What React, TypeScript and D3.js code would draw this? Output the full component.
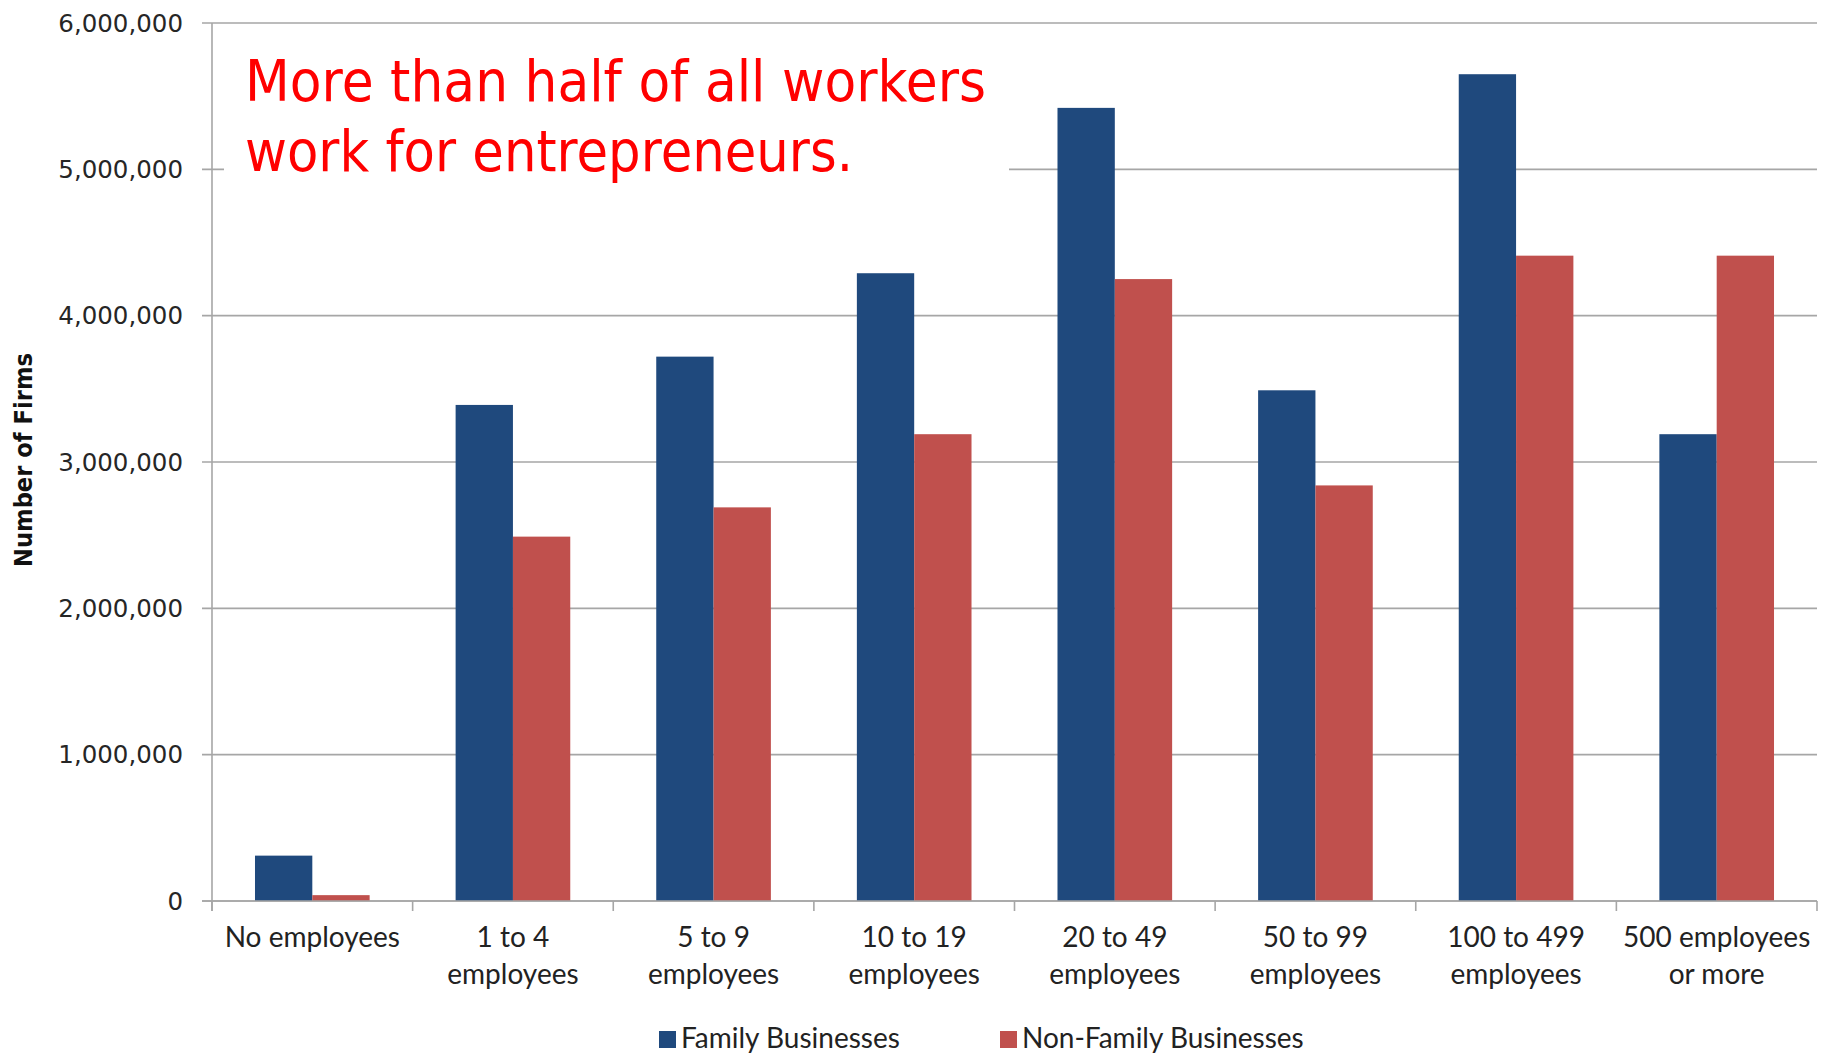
import * as d3 from "d3";

// chart values
const CATEGORIES = [
  "No employees",
  "1 to 4 employees",
  "5 to 9 employees",
  "10 to 19 employees",
  "20 to 49 employees",
  "50 to 99 employees",
  "100 to 499 employees",
  "500 employees or more",
];
const CATEGORY_LINES = [
  ["No employees"],
  ["1 to 4", "employees"],
  ["5 to 9", "employees"],
  ["10 to 19", "employees"],
  ["20 to 49", "employees"],
  ["50 to 99", "employees"],
  ["100 to 499", "employees"],
  ["500 employees", "or more"],
];
const SERIES = ["Family Businesses", "Non-Family Businesses"];
const FAMILY = [310000, 3390000, 3720000, 4290000, 5420000, 3490000, 5650000, 3190000];
const NON_FAMILY = [40000, 2490000, 2690000, 3190000, 4250000, 2840000, 4410000, 4410000];
const Y_TICKS = [0, 1000000, 2000000, 3000000, 4000000, 5000000, 6000000];
const TITLE_LINES = ["More than half of all workers", "work for entrepreneurs."];
const Y_TITLE = "Number of Firms";

const W = 1831, H = 1056;
const M = { left: 212, right: 1817, top: 23, bottom: 901 };
const COLORS = ["#1F497D", "#C0504D"];
const GRID = "#A6A6A6";
const LABEL_FONT = "Lato, 'Noto Sans', sans-serif";
const TICK_FONT = "'DejaVu Sans', Verdana, sans-serif";

export default function App() {
  const x0 = d3.scaleBand<string>().domain(CATEGORIES).range([M.left, M.right]).padding(0);
  const x1 = d3.scaleBand<string>().domain(SERIES).range([0, x0.bandwidth()]).paddingInner(0).paddingOuter(0.75);
  const y = d3.scaleLinear().domain([0, 6000000]).range([M.bottom, M.top]);
  const fmt = d3.format(",");
  const values = [FAMILY, NON_FAMILY];

  const edges = CATEGORIES.map(c => x0(c)!).concat([M.right]);

  return (
    <div style={{ position: "absolute", left: 0, top: 0, width: W, height: H, background: "#fff" }}>
      <style>{`body{margin:0;background:#fff}`}</style>
      <svg width={W} height={H} style={{ display: "block" }}>
        {/* gridlines + y ticks */}
        {Y_TICKS.map(t => (
          <g key={t}>
            <line x1={M.left - 10} x2={M.right} y1={y(t)} y2={y(t)} stroke={GRID} strokeWidth={1.6} />
            <text x={183} y={y(t)} dy="0.36em" textAnchor="end" fontFamily={TICK_FONT} fontSize={24.5} fill="#262626">
              {fmt(t)}
            </text>
          </g>
        ))}

        {/* bars */}
        {CATEGORIES.map((c, i) => (
          <g key={c} transform={`translate(${x0(c)},0)`}>
            {SERIES.map((s, j) => (
              <rect key={s} x={x1(s)} y={y(values[j][i])} width={x1.bandwidth()}
                height={M.bottom - y(values[j][i])} fill={COLORS[j]} />
            ))}
          </g>
        ))}

        {/* axes */}
        <line x1={M.left} x2={M.left} y1={M.top} y2={M.bottom + 10} stroke={GRID} strokeWidth={1.6} />
        <line x1={M.left - 10} x2={M.right} y1={M.bottom} y2={M.bottom} stroke={GRID} strokeWidth={1.6} />
        {edges.map((e, i) => (
          <line key={i} x1={e} x2={e} y1={M.bottom} y2={M.bottom + 10} stroke={GRID} strokeWidth={1.6} />
        ))}

        {/* category labels */}
        {CATEGORIES.map((c, i) => (
          <text key={c} textAnchor="middle" fontFamily={LABEL_FONT} fontSize={28} fill="#222">
            {CATEGORY_LINES[i].map((ln, k) => (
              <tspan key={k} x={x0(c)! + x0.bandwidth() / 2} y={947 + k * 37}>{ln}</tspan>
            ))}
          </text>
        ))}

        {/* y axis title */}
        <text transform={`translate(32,460) rotate(-90)`} textAnchor="middle" fontFamily={TICK_FONT}
          fontWeight="bold" fontSize={25} textLength={214} lengthAdjust="spacingAndGlyphs" fill="#111">
          {Y_TITLE}
        </text>

        {/* annotation box */}
        <rect x={224} y={36} width={785} height={160} fill="#fff" />
        <text x={245} y={101} fontFamily={TICK_FONT} fontSize={57} fill="#FF0000"
          textLength={741} lengthAdjust="spacingAndGlyphs">{TITLE_LINES[0]}</text>
        <text x={245} y={171} fontFamily={TICK_FONT} fontSize={57} fill="#FF0000"
          textLength={608} lengthAdjust="spacingAndGlyphs">{TITLE_LINES[1]}</text>

        {/* legend */}
        {SERIES.map((s, j) => {
          const lx = [659, 1000][j];
          return (
            <g key={s}>
              <rect x={lx} y={1031} width={17} height={17} fill={COLORS[j]} />
              <text x={lx + 22} y={1048} fontFamily={LABEL_FONT} fontSize={28} fill="#222">{s}</text>
            </g>
          );
        })}
      </svg>
    </div>
  );
}
